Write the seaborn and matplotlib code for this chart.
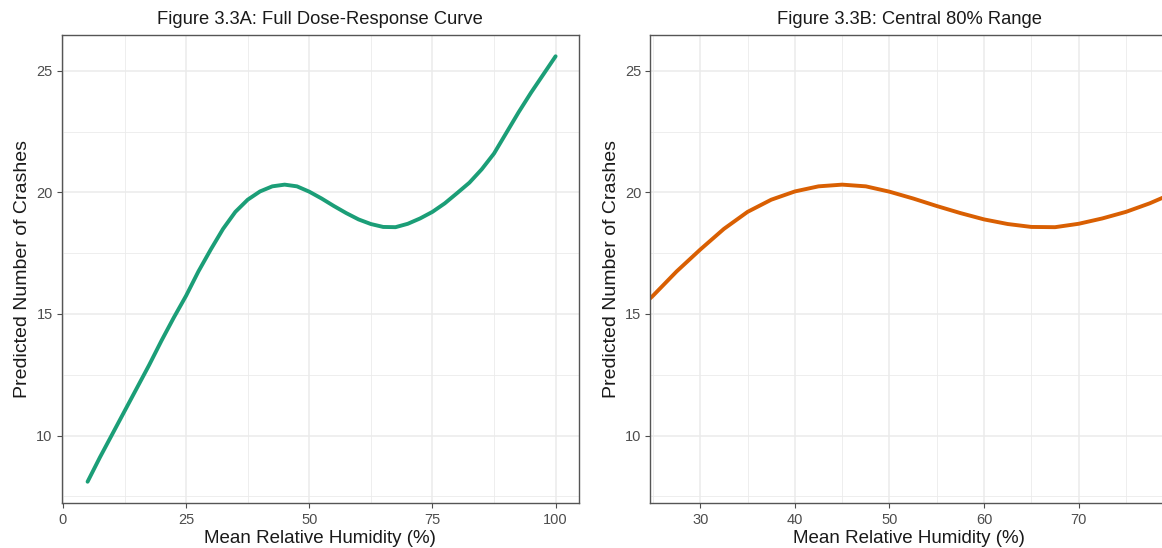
import matplotlib
matplotlib.use("Agg")
import matplotlib.pyplot as plt
from matplotlib.ticker import MultipleLocator
import pandas as pd
import seaborn as sns

# Predicted crashes along mean relative humidity (fitted dose-response curve)
humidity = [5, 7.5, 10, 12.5, 15, 17.5, 20, 22.5, 25, 27.5, 30, 32.5, 35, 37.5,
            40, 42.5, 45, 47.5, 50, 52.5, 55, 57.5, 60, 62.5, 65, 67.5, 70,
            72.5, 75, 77.5, 80, 82.5, 85, 87.5, 90, 92.5, 95, 97.5, 100]
crashes = [8.1, 9.1, 10.05, 11.0, 11.95, 12.9, 13.9, 14.85, 15.75, 16.75, 17.65,
           18.5, 19.2, 19.7, 20.04, 20.25, 20.32, 20.25, 20.03, 19.75, 19.44,
           19.15, 18.89, 18.7, 18.58, 18.57, 18.71, 18.93, 19.2, 19.55, 19.97,
           20.4, 20.95, 21.6, 22.45, 23.3, 24.1, 24.85, 25.6]

titles = ["Figure 3.3A: Full Dose-Response Curve", "Figure 3.3B: Central 80% Range"]
x_label = "Mean Relative Humidity (%)"
y_label = "Predicted Number of Crashes"
line_colors = ["#1b9e77", "#d95f02"]

df = pd.DataFrame({"humidity": humidity, "crashes": crashes})

sns.set_theme(style="white")
plt.rcParams["font.family"] = ["Liberation Sans", "DejaVu Sans"]

W, H = 1162, 548
fig = plt.figure(figsize=(W / 100, H / 100), dpi=100)
fig.patch.set_facecolor("white")

top_px, bottom_px = 35, 503
panel_w = 517.3
ax_full = fig.add_axes([61.7 / W, 1 - bottom_px / H, panel_w / W, (bottom_px - top_px) / H])
ax_mid = fig.add_axes([650.5 / W, 1 - bottom_px / H, panel_w / W, (bottom_px - top_px) / H])

specs = [
    (ax_full, line_colors[0], titles[0], (-0.25, 104.75), 25, 12.5),
    (ax_mid, line_colors[1], titles[1], (24.74, 79.42), 10, 5),
]

grid_col = "#ebebeb"
for ax, color, title, xlim, major, minor in specs:
    ax.set_facecolor("white")
    sns.lineplot(data=df, x="humidity", y="crashes", ax=ax, color=color,
                 linewidth=2.8, estimator=None, sort=True)
    ax.set_xlim(*xlim)
    ax.set_ylim(7.225, 26.475)
    ax.xaxis.set_major_locator(MultipleLocator(major))
    ax.xaxis.set_minor_locator(MultipleLocator(minor))
    ax.yaxis.set_major_locator(MultipleLocator(5))
    ax.yaxis.set_minor_locator(MultipleLocator(2.5))
    ax.grid(which="major", color=grid_col, linewidth=1.1)
    ax.grid(which="minor", color=grid_col, linewidth=0.6)
    ax.set_axisbelow(True)
    ax.tick_params(which="major", direction="out", length=3.5, width=0.8,
                   color="#4d4d4d", labelcolor="#4d4d4d", labelsize=10.5, pad=3,
                   bottom=True, left=True)
    ax.tick_params(axis="x", which="major", pad=4)
    ax.tick_params(which="minor", length=0)
    for sp in ax.spines.values():
        sp.set_color("#555555")
        sp.set_linewidth(1.0)
    ax.set_title(title, fontsize=13.2, color="#1a1a1a", pad=8)
    ax.set_xlabel(x_label, fontsize=13.5, color="#1a1a1a", labelpad=2)
    ax.set_ylabel(y_label, fontsize=14, color="#1a1a1a", labelpad=4)

fig.savefig("out.png", dpi=100, facecolor="white")
